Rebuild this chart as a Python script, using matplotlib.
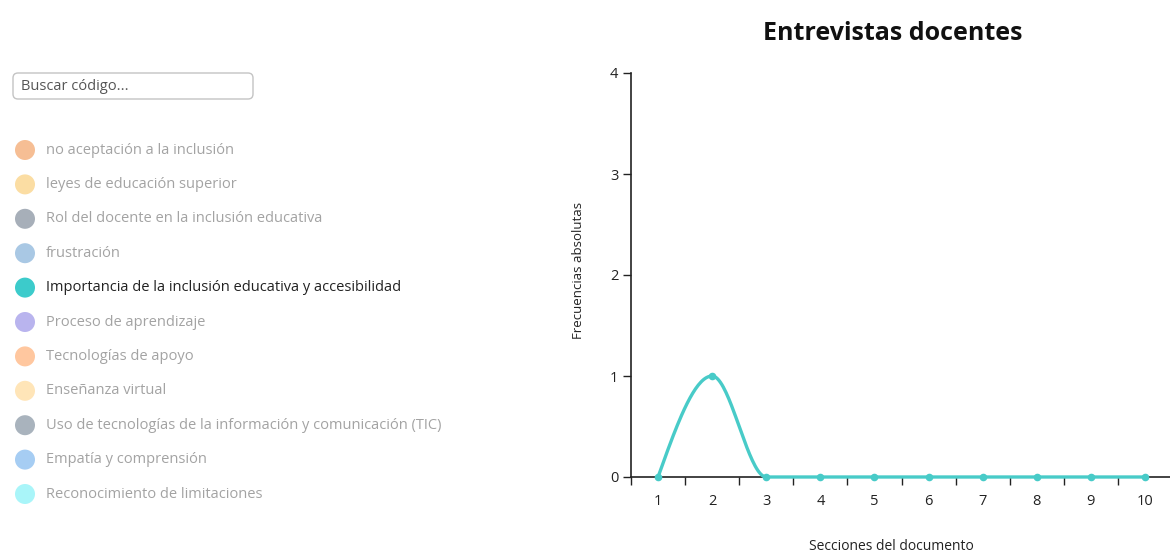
import matplotlib.pyplot as plt
from matplotlib.patches import FancyBboxPatch, Circle
import numpy as np

plt.rcParams['font.family'] = ['Open Sans', 'DejaVu Sans']

codes = ["no aceptación a la inclusión", "leyes de educación superior",
         "Rol del docente en la inclusión educativa", "frustración",
         "Importancia de la inclusión educativa y accesibilidad",
         "Proceso de aprendizaje", "Tecnologías de apoyo", "Enseñanza virtual",
         "Uso de tecnologías de la información y comunicación (TIC)",
         "Empatía y comprensión", "Reconocimiento de limitaciones"]
code_colors = ["#F6BE94", "#FBDDA3", "#A7AFB9", "#A9C8E4", "#3CCBCB", "#B9B4EE",
               "#FFC79F", "#FFE5B8", "#A9B3BD", "#A6CDF3", "#A9F5F9"]
active = 4

sections = ["1", "2", "3", "4", "5", "6", "7", "8", "9", "10"]
freqs = [0, 1, 0, 0, 0, 0, 0, 0, 0, 0]
line_color = "#48CBC8"

W, H = 1170, 554
fig = plt.figure(figsize=(W / 100, H / 100), dpi=100)

# left panel in pixel coords
lp = fig.add_axes([0, 0, 1, 1])
lp.set_xlim(0, W)
lp.set_ylim(H, 0)
lp.axis('off')
box = FancyBboxPatch((13, 73), 240, 26, boxstyle="round,pad=0,rounding_size=5",
                     fc="white", ec="#C4C4C4", lw=1)
lp.add_patch(box)
lp.text(21, 86.5, "Buscar código...", fontsize=10.5, color="#555555", va='center')
for i, (c, col) in enumerate(zip(codes, code_colors)):
    y = 150 + i * 34.4
    lp.add_patch(Circle((25, y), 10, fc=col, ec='none'))
    lp.text(46, y, c, fontsize=10.5, va='center',
            color="#222222" if i == active else "#A3A3A3")

# chart
x0, x1 = 631, 1172
y0, y1 = 477, 73
ax = fig.add_axes([x0 / W, 1 - y0 / H, (x1 - x0) / W, (y0 - y1) / H])
ax.patch.set_alpha(0)
xs = np.arange(len(sections))
ys = np.array(freqs, dtype=float)

# monotone-x cubic like d3.curveMonotoneX
n = len(xs)
s = np.diff(ys) / np.diff(xs)
t = np.zeros(n)
for k in range(1, n - 1):
    s0, s1 = s[k - 1], s[k]
    p = (s0 + s1) / 2
    t[k] = (np.sign(s0) + np.sign(s1)) * min(abs(s0), abs(s1), 0.5 * abs(p))
t[0] = (3 * s[0] - t[1]) / 2
t[-1] = (3 * s[-1] - t[-2]) / 2
cx, cy = [], []
for k in range(n - 1):
    u = np.linspace(0, 1, 40)
    h = xs[k + 1] - xs[k]
    P0 = np.array([xs[k], ys[k]])
    P1 = np.array([xs[k] + h / 3, ys[k] + t[k] * h / 3])
    P2 = np.array([xs[k + 1] - h / 3, ys[k + 1] - t[k + 1] * h / 3])
    P3 = np.array([xs[k + 1], ys[k + 1]])
    pts = ((1 - u) ** 3)[:, None] * P0 + (3 * (1 - u) ** 2 * u)[:, None] * P1 \
        + (3 * (1 - u) * u ** 2)[:, None] * P2 + (u ** 3)[:, None] * P3
    cx.extend(pts[:, 0])
    cy.extend(pts[:, 1])
ax.plot(cx, cy, color=line_color, lw=2.4, clip_on=False, zorder=3)
ax.scatter(xs, ys, s=20, color=line_color, zorder=4, clip_on=False)

ax.set_xlim(-0.5, len(sections) - 0.5)
ax.set_ylim(0, 4)
ax.set_yticks([0, 1, 2, 3, 4])
ax.set_xticks(xs)
ax.set_xticklabels(sections)
ax.set_xticks(np.arange(len(sections) + 1) - 0.5, minor=True)
ax.tick_params(axis='x', which='major', length=0, pad=12, labelsize=10.5, colors="#222222")
ax.tick_params(axis='x', which='minor', length=6, width=1, color="#222222")
ax.tick_params(axis='y', length=6, width=1, labelsize=10.5, pad=3, colors="#222222")
for side in ['top', 'right']:
    ax.spines[side].set_visible(False)
for side in ['left', 'bottom']:
    ax.spines[side].set_color("#222222")
    ax.spines[side].set_linewidth(1.2)

fig.text(893 / W, 1 - 33 / H, "Entrevistas docentes", fontsize=18, fontweight='bold',
         ha='center', va='center', color="#111111")
fig.text(578 / W, 1 - 270 / H, "Frecuencias absolutas", fontsize=9.5, rotation=90,
         ha='center', va='center', color="#222222")
fig.text(891 / W, 1 - 547 / H, "Secciones del documento", fontsize=10,
         ha='center', va='center', color="#222222")

fig.savefig("out.png", dpi=100)
